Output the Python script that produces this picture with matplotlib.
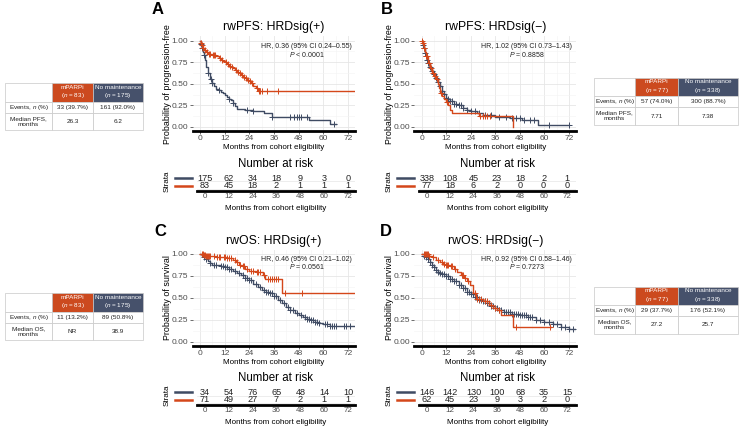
import numpy as np
import matplotlib
matplotlib.use("Agg")
import matplotlib.pyplot as plt
from matplotlib.patches import Rectangle

plt.rcParams['font.family'] = ['Liberation Sans', 'DejaVu Sans']
plt.rcParams['mathtext.fontset'] = 'custom'
plt.rcParams['mathtext.rm'] = 'Liberation Sans'
plt.rcParams['mathtext.it'] = 'Liberation Sans:italic'

NAVY = '#3F4B63'
ORANGE = '#D4471A'
HEAD_OR = '#CC4A1F'
HEAD_NV = '#46516B'

months = [0, 12, 24, 36, 48, 60, 72]

# ---- A: rwPFS HRDsig(+) ----
a_parp_t = [0, 0.5, 1, 1.5, 2, 3, 4, 6, 8, 9, 10, 11, 12, 13, 14, 15, 16, 17, 18, 19, 20, 21, 22, 23, 24, 25, 26, 27, 28]
a_parp_s = [1, 0.97, 0.95, 0.92, 0.89, 0.87, 0.85, 0.84, 0.82, 0.80, 0.78, 0.76, 0.75, 0.73, 0.71, 0.69, 0.68, 0.66, 0.64, 0.62, 0.60, 0.58, 0.57, 0.55, 0.53, 0.51, 0.48, 0.45, 0.42]
a_parp_end = 75
a_parp_cens = [0.5, 1, 1.5, 2.5, 3.5, 4.5, 5, 6.5, 7, 7.5, 9.5, 10.5, 12.5, 13.5, 14.5, 15.5, 17.5, 18.5, 19.5, 20.5,
               21.5, 22.5, 23.5, 24.5, 25.5, 27.5, 28.5, 29, 30, 32.5, 38]
a_none_t = [0, 0.5, 1, 1.5, 2, 2.5, 3, 4, 5, 6, 7, 8, 9, 10, 11, 12, 13, 14, 15, 16, 17, 18, 22, 26, 31, 35, 53, 63]
a_none_s = [1, 0.96, 0.92, 0.87, 0.83, 0.78, 0.70, 0.62, 0.56, 0.51, 0.47, 0.44, 0.43, 0.41, 0.39, 0.37, 0.35, 0.33, 0.31, 0.28, 0.24, 0.21, 0.20, 0.18, 0.16, 0.12, 0.08, 0.04]
a_none_end = 66
a_none_cens = [0.5, 1, 2, 4, 5.5, 6, 9, 14, 16, 23, 26, 35, 44, 45.5, 47, 48, 49, 52, 65]
a_risk_none = [175, 62, 34, 18, 9, 3, 0]
a_risk_parp = [83, 45, 18, 2, 1, 1, 1]

# ---- B: rwPFS HRDsig(-) ----
b_parp_t = [0, 0.5, 1, 1.5, 2, 3, 4, 5, 6, 7, 8, 8.5, 9, 10, 11, 12, 13, 14, 15, 28, 44.7]
b_parp_s = [1, 0.97, 0.92, 0.87, 0.82, 0.74, 0.68, 0.63, 0.59, 0.56, 0.50, 0.45, 0.39, 0.36, 0.33, 0.29, 0.25, 0.20, 0.16, 0.13, 0.0]
b_parp_end = 44.7
b_parp_cens = [0.3, 0.8, 1.2, 2.2, 2.8, 3.5, 4.5, 5.5, 6.5, 7.5, 9.5, 12.5, 28.5, 30, 31, 32, 33.5]
b_none_t = [0, 0.5, 1, 1.5, 2, 2.5, 3, 4, 5, 6, 7, 8, 9, 10, 11, 12, 13, 14, 16, 18, 20, 22, 24, 27, 30, 36, 43, 49, 57]
b_none_s = [1, 0.95, 0.91, 0.86, 0.82, 0.78, 0.74, 0.69, 0.65, 0.61, 0.57, 0.52, 0.47, 0.42, 0.38, 0.34, 0.32, 0.30, 0.27, 0.25, 0.22, 0.20, 0.18, 0.16, 0.14, 0.12, 0.10, 0.085, 0.025]
b_none_end = 72
b_none_cens = [0.5, 1, 1.5, 2, 2.5, 3, 3.5, 4, 5, 6, 7, 8, 9, 10, 11, 12, 13, 14, 15, 16, 17, 18, 19, 20, 22, 24, 26,
               28, 31, 34, 38, 41, 44, 46, 48, 50, 53, 55, 62, 72]
b_risk_none = [338, 108, 45, 23, 18, 2, 1]
b_risk_parp = [77, 18, 6, 2, 0, 0, 0]

# ---- C: rwOS HRDsig(+) ----
c_parp_t = [0, 2, 3, 8, 10, 13, 16, 17.5, 19, 20.5, 22, 24, 27, 30.5, 31.5, 40]
c_parp_s = [1, 0.99, 0.98, 0.97, 0.96, 0.95, 0.93, 0.91, 0.88, 0.86, 0.83, 0.81, 0.80, 0.76, 0.71, 0.56]
c_parp_end = 75
c_parp_cens = [1, 1.5, 2, 2.5, 3, 3.5, 4, 4.5, 5, 7, 8.5, 9, 9.5, 11.5, 12, 13, 14, 15, 17, 18, 19.5, 21, 21.5, 23,
               25, 26, 27.5, 28, 29, 31, 33, 34, 35, 36, 37, 38, 41.5, 49.5]
c_none_t = [0, 1, 2, 3, 4, 5, 6, 8, 10, 12, 14, 16, 18, 20, 22, 24, 26, 28, 30, 32, 34, 36, 38, 40, 42, 44, 46, 48, 50, 52, 54, 56, 58, 60, 63]
c_none_s = [1, 0.98, 0.96, 0.94, 0.92, 0.90, 0.88, 0.87, 0.86, 0.85, 0.83, 0.81, 0.78, 0.76, 0.73, 0.70, 0.66, 0.62, 0.59, 0.57, 0.55, 0.52, 0.48, 0.44, 0.40, 0.36, 0.33, 0.30, 0.28, 0.26, 0.25, 0.23, 0.21, 0.20, 0.18]
c_none_end = 75
c_none_cens = [2, 3, 5, 7, 8, 10, 11, 12, 13, 14, 15, 17, 19, 21, 22, 23, 24, 25, 27, 29, 31, 32, 33, 34, 35, 36, 37,
               39, 41, 43, 44, 45, 47, 49, 51, 52, 53, 54, 55, 56, 57, 58, 61, 62, 63, 64, 65, 66, 70, 71, 73]
c_risk_none = [34, 54, 76, 65, 48, 14, 10]
c_risk_parp = [71, 49, 27, 7, 2, 1, 1]

# ---- D: rwOS HRDsig(-) ----
d_parp_t = [0, 3.5, 5, 7, 9, 10.5, 12, 14, 16, 17.5, 19, 20.5, 22, 23.5, 25, 26.5, 30, 33, 35, 37, 39, 44.5]
d_parp_s = [1, 0.98, 0.96, 0.93, 0.91, 0.89, 0.87, 0.86, 0.83, 0.80, 0.76, 0.73, 0.69, 0.65, 0.55, 0.49, 0.46, 0.42, 0.39, 0.36, 0.31, 0.17]
d_parp_end = 63
d_parp_cens = [1, 1.5, 2, 2.5, 3, 3.5, 5.5, 8, 10, 11, 12, 12.5, 13, 14.5, 15, 16.5, 19.5, 20, 21, 22.5, 26, 27, 28,
               29, 31, 32, 34, 36, 38, 46, 62.5]
d_none_t = [0, 1, 2, 3, 4, 5, 6, 7, 8, 9, 10, 12, 14, 16, 18, 20, 22, 24, 26, 28, 30, 32, 34, 36, 38, 40, 44, 48, 52, 56, 60, 64, 68, 72]
d_none_s = [1, 0.98, 0.96, 0.94, 0.91, 0.88, 0.85, 0.82, 0.80, 0.78, 0.77, 0.75, 0.72, 0.69, 0.65, 0.61, 0.57, 0.54, 0.51, 0.48, 0.46, 0.44, 0.41, 0.38, 0.36, 0.34, 0.32, 0.30, 0.28, 0.25, 0.23, 0.20, 0.17, 0.15]
d_none_end = 75
d_none_cens = [1, 2, 3, 4, 5, 6, 7, 8, 9, 10, 11, 12, 13, 14, 15, 16, 17, 18, 19, 20, 21, 22, 23, 24, 25, 26, 27, 28,
               29, 30, 31, 32, 33, 34, 35, 36, 37, 38, 39, 40, 41, 42, 43, 44, 45, 46, 47, 48, 49, 50, 51, 52, 53,
               54, 56, 58, 60, 62, 64, 66, 68, 70, 72, 74]
d_risk_none = [146, 142, 130, 100, 68, 35, 15]
d_risk_parp = [62, 45, 23, 9, 3, 2, 0]

titles = ['rwPFS: HRDsig(+)', 'rwPFS: HRDsig(\u2212)', 'rwOS: HRDsig(+)', 'rwOS: HRDsig(\u2212)']
ylabels = ['Probability of progression-free', 'Probability of progression-free',
           'Probability of survival', 'Probability of survival']
hr_text = ['HR, 0.36 (95% CI 0.24\u20130.55)', 'HR, 1.02 (95% CI 0.73\u20131.43)',
           'HR, 0.46 (95% CI 0.21\u20131.02)', 'HR, 0.92 (95% CI 0.58\u20131.46)']
p_text = ['$P$ < 0.0001', '$P$ = 0.8858', '$P$ = 0.0561', '$P$ = 0.7273']

# tables
tab_rows_pfs = ['Events, $n$ (%)', 'Median PFS,\nmonths']
tab_rows_os = ['Events, $n$ (%)', 'Median OS,\nmonths']
tabA_parp = ['33 (39.7%)', '26.3']
tabA_none = ['161 (92.0%)', '6.2']
tabB_parp = ['57 (74.0%)', '7.71']
tabB_none = ['300 (88.7%)', '7.38']
tabC_parp = ['11 (13.2%)', 'NR']
tabC_none = ['89 (50.8%)', '38.9']
tabD_parp = ['29 (37.7%)', '27.2']
tabD_none = ['176 (52.1%)', '25.7']
n_pos = [83, 77, 83, 77]
n_neg = [175, 338, 175, 338]

W, H = 740, 426
fig = plt.figure(figsize=(W / 100, H / 100), dpi=100)

ov = fig.add_axes([0, 0, 1, 1])
ov.set_xlim(0, W)
ov.set_ylim(H, 0)
ov.axis('off')


def px_axes(x0, y0, x1, y1):
    ax = fig.add_axes([x0 / W, 1 - y1 / H, (x1 - x0) / W, (y1 - y0) / H])
    ax.patch.set_alpha(0)
    return ax


def km(ax, t, s, end, cens, color):
    ax.step(list(t) + [end], list(s) + [s[-1]], where='post', color=color, lw=1.0)
    idx = np.searchsorted(t, cens, side='right') - 1
    ax.plot(cens, np.array(s)[idx], '+', color=color, ms=3.8, mew=0.7)


def style_main(ax):
    ax.set_xlim(-3.6, 75.6)
    ax.set_ylim(-0.05, 1.05)
    ax.set_xticks(months)
    ax.set_yticks([0, 0.25, 0.5, 0.75, 1.0])
    ax.set_yticklabels(['0.00', '0.25', '0.50', '0.75', '1.00'])
    ax.set_xticks([6, 18, 30, 42, 54, 66], minor=True)
    ax.set_yticks([0.125, 0.375, 0.625, 0.875], minor=True)
    ax.grid(which='major', color='#E6E6E6', lw=0.6)
    ax.grid(which='minor', color='#F3F3F3', lw=0.4)
    ax.set_axisbelow(True)
    for sp in ['top', 'right', 'left']:
        ax.spines[sp].set_visible(False)
    ax.spines['bottom'].set_linewidth(2)
    ax.tick_params(which='major', labelsize=6, length=2, width=0.5, color='#333333',
                   pad=1, labelcolor='#4D4D4D')
    ax.tick_params(which='minor', length=0)


def risk(ax, xlim, none_vals, parp_vals):
    ax.set_xlim(*xlim)
    ax.set_ylim(-0.7, 1.8)
    ax.set_xticks(months)
    ax.set_yticks([])
    for sp in ['top', 'right', 'left']:
        ax.spines[sp].set_visible(False)
    ax.spines['bottom'].set_linewidth(2)
    ax.tick_params(labelsize=5.8, length=0, pad=1.5, labelcolor='#4D4D4D')
    for yy in [-0.45, 0.55]:
        ax.axhline(yy, color='#E6E6E6', lw=0.5)
    for m, a, b in zip(months, none_vals, parp_vals):
        ax.text(m, 1, str(a), ha='center', va='center', size=6.6, color='#222222')
        ax.text(m, 0, str(b), ha='center', va='center', size=6.6, color='#222222')


def table(x0, y0, colw, rowh, rows, parp, none, npos, nneg):
    xs = np.concatenate([[x0], x0 + np.cumsum(colw)])
    ys = np.concatenate([[y0], y0 + np.cumsum(rowh)])
    heads = ['', 'mPARPi\n($n$ = %d)' % npos, 'No maintenance\n($n$ = %d)' % nneg]
    fills = ['white', HEAD_OR, HEAD_NV]
    for c in range(3):
        ov.add_patch(Rectangle((xs[c], ys[0]), colw[c], rowh[0], facecolor=fills[c],
                               edgecolor='#C8C8C8', lw=0.5))
        ov.text((xs[c] + xs[c + 1]) / 2, (ys[0] + ys[1]) / 2, heads[c], ha='center', va='center',
                size=4.6, color='white', linespacing=1.25)
    for r in range(2):
        vals = [rows[r], parp[r], none[r]]
        for c in range(3):
            ov.add_patch(Rectangle((xs[c], ys[r + 1]), colw[c], rowh[r + 1], facecolor='white',
                                   edgecolor='#C8C8C8', lw=0.5))
            ov.text((xs[c] + xs[c + 1]) / 2, (ys[r + 1] + ys[r + 2]) / 2, vals[c], ha='center',
                    va='center', size=4.6, color='#222222', linespacing=1.15)


panels = [
    dict(box=(192.6, 36.4, 355.4, 131.3), rbox=(197, 172, 355, 191), rx=(-4.03, 75.5),
         parp=(a_parp_t, a_parp_s, a_parp_end, a_parp_cens), none=(a_none_t, a_none_s, a_none_end, a_none_cens),
         rn=a_risk_none, rp=a_risk_parp, letter=(158, 10), hr=(52, 0.93), ylx=168, stx=167),
    dict(box=(414.3, 36.4, 576.4, 131.3), rbox=(419.3, 172, 576, 191), rx=(-3.8, 76.6),
         parp=(b_parp_t, b_parp_s, b_parp_end, b_parp_cens), none=(b_none_t, b_none_s, b_none_end, b_none_cens),
         rn=b_risk_none, rp=b_risk_parp, letter=(387, 10), hr=(51.3, 0.93), ylx=389, stx=389),
    dict(box=(192.6, 249.6, 355.4, 346.1), rbox=(197, 386, 355, 405), rx=(-4.03, 75.5),
         parp=(c_parp_t, c_parp_s, c_parp_end, c_parp_cens), none=(c_none_t, c_none_s, c_none_end, c_none_cens),
         rn=c_risk_none, rp=c_risk_parp, letter=(160, 231), hr=(52, 0.94), ylx=168, stx=167),
    dict(box=(414.3, 249.6, 576.4, 346.1), rbox=(419.3, 386, 576, 405), rx=(-3.8, 76.6),
         parp=(d_parp_t, d_parp_s, d_parp_end, d_parp_cens), none=(d_none_t, d_none_s, d_none_end, d_none_cens),
         rn=d_risk_none, rp=d_risk_parp, letter=(386, 231), hr=(51.3, 0.94), ylx=389, stx=389),
]

for i, p in enumerate(panels):
    x0, y0, x1, y1 = p['box']
    ax = px_axes(x0, y0, x1, y1)
    style_main(ax)
    km(ax, *p['none'], NAVY)
    km(ax, *p['parp'], ORANGE)
    ax.text(p['hr'][0], p['hr'][1], hr_text[i], ha='center', va='center', size=5, color='#222222')
    ax.text(p['hr'][0], p['hr'][1] - 0.085, p_text[i], ha='center', va='center', size=5, color='#222222')
    cx = (x0 + x1) / 2
    ov.text(cx, y0 - 9, titles[i], ha='center', va='center', size=8.8)
    ov.text(cx, y1 + 16, 'Months from cohort eligibility', ha='center', va='center', size=5.8)
    ov.text(p['ylx'], (y0 + y1) / 2, ylabels[i], ha='center', va='center', size=6.4, rotation=90)
    ov.text(p['letter'][0], p['letter'][1], 'ABCD'[i], ha='center', va='center', size=12, weight='bold')

    rx0, ry0, rx1, ry1 = p['rbox']
    rax = px_axes(rx0, ry0, rx1, ry1)
    risk(rax, p['rx'], p['rn'], p['rp'])
    ov.text((rx0 + rx1) / 2, ry0 - 8, 'Number at risk', ha='center', va='center', size=8.3)
    ov.text((rx0 + rx1) / 2, ry1 + 17, 'Months from cohort eligibility', ha='center', va='center', size=5.8)
    ov.text(p['stx'], (ry0 + ry1) / 2, 'Strata', ha='center', va='center', size=5.8, rotation=90)
    lx = rx0 - 22
    ov.plot([lx, lx + 17], [ry0 + 6.4, ry0 + 6.4], color=NAVY, lw=1.8)
    ov.plot([lx, lx + 17], [ry0 + 13.8, ry0 + 13.8], color=ORANGE, lw=1.8)

table(5, 83, [47, 41, 50], [19, 11, 17], tab_rows_pfs, tabA_parp, tabA_none, n_pos[0], n_neg[0])
table(594, 78, [41, 43, 60], [18, 11, 18], tab_rows_pfs, tabB_parp, tabB_none, n_pos[1], n_neg[1])
table(5, 293, [47, 41, 50], [19, 11, 17], tab_rows_os, tabC_parp, tabC_none, n_pos[2], n_neg[2])
table(594, 287, [41, 43, 60], [18, 11, 18], tab_rows_os, tabD_parp, tabD_none, n_pos[3], n_neg[3])

fig.savefig('out.png', dpi=100)
